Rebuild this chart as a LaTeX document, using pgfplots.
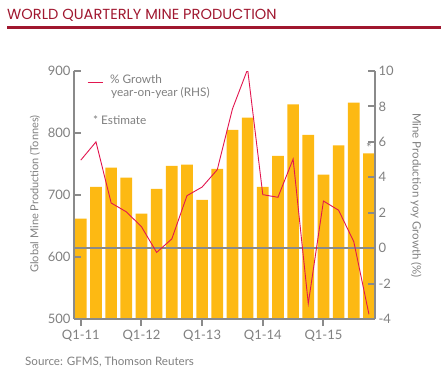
\documentclass[border=0pt]{standalone}
\usepackage{fontspec}
\setmainfont{Lato}
\newfontfamily\titlefont{Poppins}
\usepackage{pgfplots}
\usepackage{pgfplotstable}
\pgfplotsset{compat=1.18}
\definecolor{bargold}{HTML}{FDB913}
\definecolor{linered}{HTML}{E2164F}
\definecolor{axgray}{HTML}{8A8A8A}
\definecolor{txtgray}{HTML}{808080}
\definecolor{titlered}{HTML}{A0172F}

\pgfplotstableread{
x prod growth
0 662 4.97
1 713 6.00
2 744 2.55
3 728 2.05
4 670 1.21
5 710 -0.24
6 747 0.52
7 749 2.96
8 692 3.45
9 742 4.43
10 805 7.86
11 825 10.1
12 713 3.02
13 763 2.87
14 846 5.03
15 797 -3.13
16 733 2.66
17 780 2.14
18 849 0.37
19 767 -3.73
}\data

\pgfplotsset{
  base/.style={
    at={(74pt,-319pt)}, anchor=south west, scale only axis,
    width=301pt, height=248pt,
    xmin=-0.45, xmax=19.4,
    axis line style={-, axgray, line width=2pt},
    x axis line style={-}, y axis line style={-},
    tick style={axgray, line width=2pt},
    major tick length=7pt,
    minor tick num=0,
    /pgf/number format/assume math mode=true,
    ticklabel style={text=txtgray, font=\fontsize{13}{15}\selectfont},
  }
}

\begin{document}
\begin{tikzpicture}
\path[use as bounding box] (0pt,0pt) rectangle (448pt,-378pt);
\node[anchor=base west, inner sep=0pt, text=titlered, font=\titlefont\fontsize{14.6}{16}\selectfont] at (7pt,-19.3pt) {WORLD QUARTERLY MINE PRODUCTION};
\draw[titlered, line width=3.3pt] (7pt,-27.7pt) -- (441pt,-27.7pt);

% bars + x axis
\begin{axis}[base,
  ymin=500, ymax=900,
  axis x line*=bottom, axis y line=none,
  tick align=outside,
  xtick={0,4,8,12,16},
  xticklabels={Q1-11,Q1-12,Q1-13,Q1-14,Q1-15},
  xticklabel style={yshift=-1pt},
  axis on top,
]
\addplot[ybar, bar width=0.77, fill=bargold, draw=none] table[x=x, y=prod] {\data};
\node[above, inner sep=1pt, text=txtgray, font=\fontsize{13}{15}\selectfont] at (axis cs:19,767) {*};
\end{axis}

% left y axis
\begin{axis}[base,
  ymin=500, ymax=900,
  axis y line*=left, axis x line=none,
  tick align=inside,
  ytick={500,600,700,800,900},
]
\end{axis}

% right axis with growth line
\begin{axis}[base,
  ymin=-4, ymax=10,
  axis y line*=right, axis x line=none,
  tick align=inside,
  ytick={-4,-2,0,2,4,6,8,10},
]
\draw[axgray, line width=2pt] (axis cs:-0.45,0) -- (axis cs:19.4,0);
\addplot[linered, line width=0.9pt, mark=none] table[x=x, y=growth] {\data};
\end{axis}

% axis titles
\node[rotate=90, text=txtgray, font=\fontsize{11}{13}\selectfont] at (35pt,-194pt) {Global Mine Production (Tonnes)};
\node[rotate=-90, text=txtgray, font=\fontsize{11.5}{13}\selectfont] at (416pt,-195.5pt) {Mine Production yoy Growth (\%)};

% legend
\draw[linered, line width=1pt] (87.7pt,-82.7pt) -- (102.7pt,-82.7pt);
\node[anchor=base west, inner sep=0pt, text=txtgray, font=\fontsize{11.8}{13}\selectfont] at (110pt,-83.5pt) {\% Growth};
\node[anchor=base west, inner sep=0pt, text=txtgray, font=\fontsize{11.8}{13}\selectfont] at (111pt,-96.7pt) {year-on-year (RHS)};
\node[anchor=base west, inner sep=0pt, text=txtgray, font=\fontsize{11.8}{13}\selectfont] at (93pt,-124.3pt) {* Estimate};

% source
\node[anchor=base west, inner sep=0pt, text=txtgray, font=\fontsize{11.6}{13}\selectfont] at (25pt,-365.7pt) {Source: GFMS, Thomson Reuters};
\end{tikzpicture}
\end{document}
